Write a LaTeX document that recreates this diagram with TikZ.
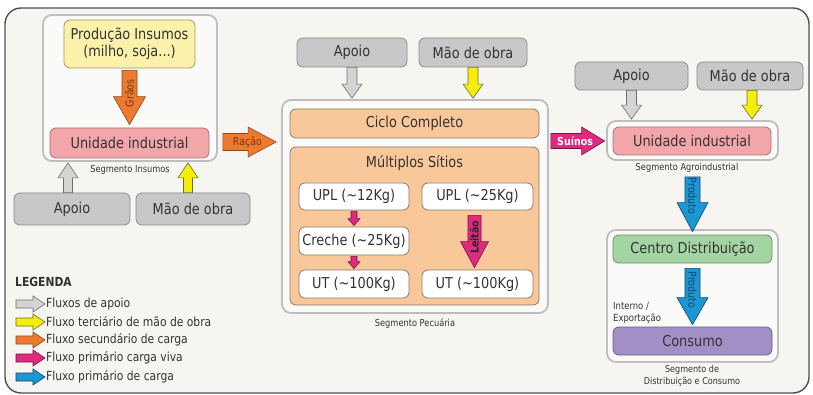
\documentclass[tikz,border=0pt]{standalone}
\usepackage{fontspec}
\setmainfont{DejaVu Sans}[FakeStretch=0.86]
\usetikzlibrary{calc}
\definecolor{bgc}{HTML}{F6F5F2}
\definecolor{frameC}{HTML}{505050}
\definecolor{segF}{HTML}{FAFAF8}
\definecolor{segD}{HTML}{BEBEBE}
\definecolor{grayF}{HTML}{C8C8C8}
\definecolor{grayD}{HTML}{8A8A8A}
\definecolor{yelF}{HTML}{FBF1AA}
\definecolor{yelD}{HTML}{A29A5E}
\definecolor{pinkF}{HTML}{F3A6A9}
\definecolor{pinkD}{HTML}{A87373}
\definecolor{oraF}{HTML}{F9C89A}
\definecolor{oraD}{HTML}{8C7B6A}
\definecolor{whD}{HTML}{8A7A6A}
\definecolor{greF}{HTML}{A3D4A3}
\definecolor{greD}{HTML}{6E8E6E}
\definecolor{purF}{HTML}{A18FC6}
\definecolor{purD}{HTML}{6B5C8C}
\definecolor{aGrayF}{HTML}{D4D4D4}
\definecolor{aGrayD}{HTML}{6E6E6E}
\definecolor{aYelF}{HTML}{F5EE0A}
\definecolor{aYelD}{HTML}{6E6E3A}
\definecolor{aOraF}{HTML}{EE7A2F}
\definecolor{aOraD}{HTML}{8C4A1C}
\definecolor{aMagF}{HTML}{DE2A7F}
\definecolor{aMagD}{HTML}{7A1242}
\definecolor{aBluF}{HTML}{1C97D3}
\definecolor{aBluD}{HTML}{0F4A6A}
\definecolor{txt}{HTML}{333333}
\newcommand\fsz[1]{\fontsize{#1}{#1}\selectfont}
% block arrow: #1 style, #2 start, #3 end, #4 shaft half width, #5 head half width, #6 head length
\newcommand\blockarr[6]{%
  \coordinate (ba-S) at #2;
  \coordinate (ba-E) at #3;
  \coordinate (ba-H) at ($(ba-E)!#6!(ba-S)$);
  \draw[#1] ($(ba-S)!#4!90:(ba-E)$) -- ($(ba-H)!#4!90:(ba-E)$) -- ($(ba-H)!#5!90:(ba-E)$)
    -- (ba-E) -- ($(ba-H)!#5!-90:(ba-E)$) -- ($(ba-H)!#4!-90:(ba-E)$) -- ($(ba-S)!#4!-90:(ba-E)$) -- cycle;
}
\tikzset{
  box/.style={draw, rounded corners=6pt, line width=0.8pt, inner sep=0pt, align=center, text=txt, font=\fsz{15}},
  segbox/.style={draw=segD, fill=segF, rounded corners=9pt, line width=1.8pt, inner sep=0pt},
  graybox/.style={box, fill=grayF, draw=grayD},
  yelbox/.style={box, fill=yelF, draw=yelD},
  pinkbox/.style={box, fill=pinkF, draw=pinkD},
  orabox/.style={box, fill=oraF, draw=oraD},
  whbox/.style={box, fill=white, draw=whD},
  grebox/.style={box, fill=greF, draw=greD},
  purbox/.style={box, fill=purF, draw=purD},
  seglabel/.style={text=txt, font=\fsz{9.6}, align=center, inner sep=0pt},
  legtext/.style={text=txt, font=\fsz{12.5}, anchor=west, inner sep=0pt},
  alabel/.style={font=\fsz{11}, inner sep=0pt},
  aGray/.style={fill=aGrayF, draw=aGrayD, line width=0.6pt},
  aYel/.style={fill=aYelF, draw=aYelD, line width=0.6pt},
  aOra/.style={fill=aOraF, draw=aOraD, line width=0.6pt},
  aMag/.style={fill=aMagF, draw=aMagD, line width=0.6pt},
  aBlu/.style={fill=aBluF, draw=aBluD, line width=0.6pt},
}
\begin{document}
\begin{tikzpicture}[x=1pt,y=-1pt]
\useasboundingbox[fill=white] (0,0) rectangle (813,395);
\node[draw=frameC, fill=bgc, line width=1.4pt, rounded corners=16pt, minimum width=804pt, minimum height=385pt, inner sep=0pt] (frame) at (407,200.5) {};

% ---------- Segmento Insumos ----------
\node[segbox, minimum width=174pt, minimum height=146pt] (segIns) at (130,88) {};
\node[yelbox, minimum width=131pt, minimum height=48pt] (prod) at (129.5,44) {Produção Insumos\\[2pt](milho, soja...)};
\node[pinkbox, minimum width=159pt, minimum height=30pt] (ui1) at (129.5,143) {Unidade industrial};
\node[seglabel] (lblIns) at (130,170) {Segmento Insumos};
\node[graybox, minimum width=116pt, minimum height=32pt] (apoio1) at (72,209) {Apoio};
\node[graybox, minimum width=114pt, minimum height=32pt] (mao1) at (193,209) {Mão de obra};

\blockarr{aOra}{($(prod.south)+(0,2)$)}{($(ui1.north)+(0,-3)$)}{7.5pt}{16pt}{28pt}
\node[alabel, rotate=90, text=aOraD!80!black] (lblGraos) at ($(ba-S)!0.42!(ba-E)$) {Grãos};
\blockarr{aGray}{(apoio1.north -| 68,0)}{($(segIns.south -| 68,0)+(0,1)$)}{4.5pt}{10pt}{15pt}
\blockarr{aYel}{(mao1.north -| 188,0)}{($(segIns.south -| 188,0)+(0,1)$)}{4.5pt}{10pt}{15pt}

% ---------- Segmento Pecuária ----------
\node[segbox, minimum width=266pt, minimum height=213pt] (segPec) at (415,206.5) {};
\node[orabox, minimum width=249pt, minimum height=29pt] (ciclo) at (414.5,123.5) {Ciclo Completo};
\node[orabox, minimum width=249pt, minimum height=158pt] (multi) at (414.5,226) {};
\node[text=txt, font=\fsz{15}, inner sep=0pt] (multiTxt) at (414.5,163) {Múltiplos Sítios};
\node[whbox, minimum width=110pt, minimum height=27pt] (upl12) at (354,196.5) {UPL (\textasciitilde12Kg)};
\node[whbox, minimum width=111pt, minimum height=27pt] (upl25) at (477.5,196.5) {UPL (\textasciitilde25Kg)};
\node[whbox, minimum width=110pt, minimum height=28pt] (creche) at (354,241) {Creche (\textasciitilde25Kg)};
\node[whbox, minimum width=110pt, minimum height=28pt] (ut1) at (354,284) {UT (\textasciitilde100Kg)};
\node[whbox, minimum width=111pt, minimum height=28pt] (ut2) at (477.5,284) {UT (\textasciitilde100Kg)};
\node[seglabel] (lblPec) at (415,324) {Segmento Pecuária};
\node[graybox, minimum width=110pt, minimum height=29pt] (apoio2) at (352,52.5) {Apoio};
\node[graybox, minimum width=108pt, minimum height=29pt] (mao2) at (473,52.5) {Mão de obra};

\blockarr{aGray}{(apoio2.south)}{($(segPec.north -| apoio2.south)+(0,-1)$)}{5pt}{10pt}{14pt}
\blockarr{aYel}{(mao2.south)}{($(segPec.north -| mao2.south)+(0,-1)$)}{5pt}{10pt}{14pt}
\blockarr{aMag}{($(upl12.south)+(0,1)$)}{($(creche.north)+(0,-1)$)}{3pt}{6pt}{7pt}
\blockarr{aMag}{($(creche.south)+(0,1)$)}{($(ut1.north)+(0,-1)$)}{3pt}{6pt}{7pt}
\blockarr{aMag}{($(upl25.south)+(-3,5)$)}{($(ut2.north)+(-3,-2)$)}{6.5pt}{14pt}{26pt}
\node[alabel, rotate=90, text=black!85, font=\bfseries\fsz{11}] (lblLeitao) at ($(ba-S)!0.42!(ba-E)$) {Leitão};

% Ração and Suínos
\blockarr{aOra}{($(segIns.east |- ui1)+(5,-1)$)}{($(segPec.west |- ui1)+(-5,-1)$)}{8.5pt}{15pt}{28pt}
\node[alabel, text=aOraD!80!black] (lblRacao) at ($(ba-S)!0.46!(ba-E)$) {Ração};

% ---------- Segmento Agroindustrial ----------
\node[segbox, minimum width=171pt, minimum height=39pt] (segAgro) at (692.5,140.5) {};
\node[pinkbox, minimum width=158pt, minimum height=28pt] (ui2) at (692,141) {Unidade industrial};
\node[seglabel] (lblAgro) at (687,168) {Segmento Agroindustrial};
\node[graybox, minimum width=113pt, minimum height=28pt] (apoio3) at (631.5,76) {Apoio};
\node[graybox, minimum width=106pt, minimum height=28pt] (mao3) at (750,76) {Mão de obra};
\blockarr{aGray}{(apoio3.south)}{($(segAgro.north -| apoio3.south)+(0,-1)$)}{5pt}{10pt}{14pt}
\blockarr{aYel}{(mao3.south -| 752,0)}{($(segAgro.north -| 752,0)+(0,-1)$)}{5pt}{10pt}{14pt}

\blockarr{aMag}{($(segPec.east |- ui2)+(2,0)$)}{($(ui2.west)+(-8,0)$)}{7.5pt}{14pt}{23pt}
\node[alabel, text=white, font=\bfseries\fsz{11}] (lblSuinos) at ($(ba-S)!0.45!(ba-E)$) {Suínos};

% ---------- Segmento de Distribuição e Consumo ----------
\node[segbox, minimum width=171pt, minimum height=132pt] (segDist) at (692.5,296) {};
\node[grebox, minimum width=159pt, minimum height=28pt] (centro) at (692.5,249) {Centro Distribuição};
\node[purbox, minimum width=159pt, minimum height=28pt] (consumo) at (692.5,341) {Consumo};
\node[seglabel, font=\fsz{9.4}] (lblDist) at (692,376) {Segmento de\\[2.5pt]Distribuição e Consumo};
\node[text=txt, font=\fsz{9.8}, align=left, anchor=west, inner sep=0pt] (interno) at (613,313) {Interno /\\[2.5pt]Exportação};

\blockarr{aBlu}{($(segAgro.south)+(0,16)$)}{($(centro.north)+(0,-3)$)}{7.5pt}{15.5pt}{29pt}
\node[alabel, rotate=-90, text=aBluD] (lblProd1) at ($(ba-S)!0.35!(ba-E)$) {Produto};
\blockarr{aBlu}{($(centro.south)+(0,5)$)}{($(consumo.north)+(0,-2)$)}{7.5pt}{15.5pt}{27pt}
\node[alabel, rotate=-90, text=aBluD] (lblProd2) at ($(ba-S)!0.38!(ba-E)$) {Produto};

% ---------- Legenda ----------
\node[text=txt, font=\bfseries\fsz{12.5}, anchor=west, inner sep=0pt] (leg) at (15,282) {LEGENDA};
\coordinate (l1a) at (16,304); \coordinate (l1b) at (45,304);
\coordinate (l2a) at (16,322); \coordinate (l2b) at (45,322);
\coordinate (l3a) at (16,340); \coordinate (l3b) at (45,340);
\coordinate (l4a) at (16,358); \coordinate (l4b) at (45,358);
\coordinate (l5a) at (16,377); \coordinate (l5b) at (45,377);
\blockarr{aGray}{(l1a)}{(l1b)}{4pt}{8pt}{12pt}
\blockarr{aYel}{(l2a)}{(l2b)}{4pt}{8pt}{12pt}
\blockarr{aOra}{(l3a)}{(l3b)}{4pt}{8pt}{12pt}
\blockarr{aMag}{(l4a)}{(l4b)}{4pt}{8pt}{12pt}
\blockarr{aBlu}{(l5a)}{(l5b)}{4pt}{8pt}{12pt}
\node[legtext] (t1) at ($(l1b)+(1,0)$) {Fluxos de apoio};
\node[legtext] (t2) at ($(l2b)+(1,0)$) {Fluxo terciário de mão de obra};
\node[legtext] (t3) at ($(l3b)+(1,0)$) {Fluxo secundário de carga};
\node[legtext] (t4) at ($(l4b)+(1,0)$) {Fluxo primário carga viva};
\node[legtext] (t5) at ($(l5b)+(1,0)$) {Fluxo primário de carga};
\end{tikzpicture}
\end{document}
